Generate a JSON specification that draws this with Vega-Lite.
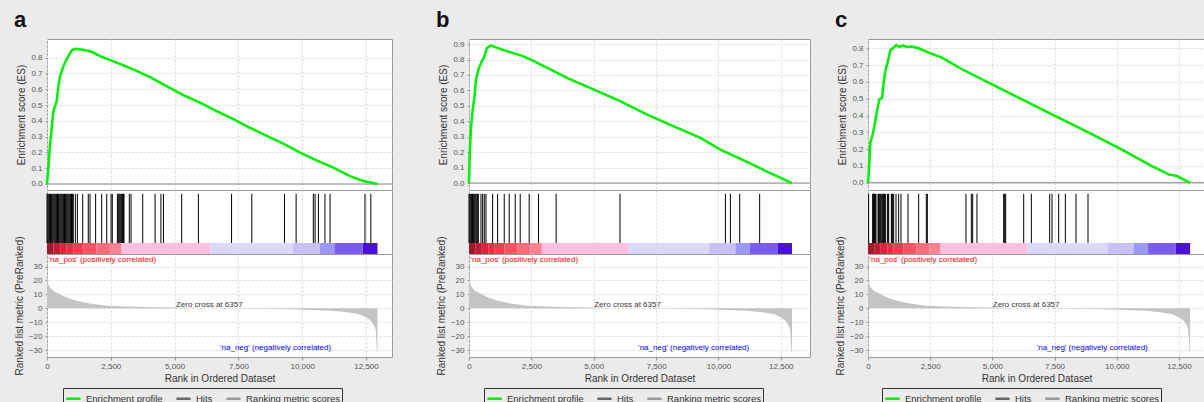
{
  "$schema": "https://vega.github.io/schema/vega-lite/v6.json",
  "background": "#ebebeb",
  "padding": {"left": 13, "top": 8, "right": 0, "bottom": 0},
  "datasets": {
    "metric": [
      {"rank": 0, "value": 24}, {"rank": 52, "value": 17.3}, {"rank": 117, "value": 14.9}, {"rank": 247, "value": 12.5},
      {"rank": 508, "value": 10.1}, {"rank": 769, "value": 7.7}, {"rank": 1160, "value": 5.4}, {"rank": 1681, "value": 3.4},
      {"rank": 2332, "value": 1.8}, {"rank": 3374, "value": 1.1}, {"rank": 4937, "value": 0.5}, {"rank": 5600, "value": 0.2},
      {"rank": 6357, "value": 0}, {"rank": 8000, "value": -0.2}, {"rank": 9173, "value": -0.6}, {"rank": 11191, "value": -1.8},
      {"rank": 11843, "value": -3}, {"rank": 12234, "value": -4.2}, {"rank": 12494, "value": -6.5}, {"rank": 12690, "value": -9},
      {"rank": 12820, "value": -12.5}, {"rank": 12885, "value": -16}, {"rank": 12924, "value": -30}, {"rank": 12950, "value": -33}
    ],
    "bar": [
      {"start": 0, "end": 247, "bin": "r1"}, {"start": 247, "end": 515, "bin": "r2"}, {"start": 515, "end": 772, "bin": "r3"},
      {"start": 772, "end": 1029, "bin": "r4"}, {"start": 1029, "end": 1420, "bin": "r5"}, {"start": 1420, "end": 1940, "bin": "r6"},
      {"start": 1940, "end": 2465, "bin": "r7"}, {"start": 2465, "end": 2919, "bin": "r8"}, {"start": 2919, "end": 6400, "bin": "pk"},
      {"start": 6400, "end": 9628, "bin": "l1"}, {"start": 9628, "end": 10677, "bin": "l2"}, {"start": 10677, "end": 11260, "bin": "b1"},
      {"start": 11260, "end": 12370, "bin": "b2"}, {"start": 12370, "end": 12950, "bin": "b3"}
    ],
    "zero": [{"es": 0}],
    "notes": [
      {"kind": "pos", "rank": 60, "value": 34.7, "text": "'na_pos' (positively correlated)"},
      {"kind": "zero", "rank": 6357, "value": 2.4, "text": "Zero cross at 6357"},
      {"kind": "neg", "rank": 6780, "value": -28.8, "text": "'na_neg' (negatively correlated)"}
    ],
    "esA": [
      {"rank": 0, "es": 0}, {"rank": 53, "es": 0.103}, {"rank": 117, "es": 0.25}, {"rank": 183, "es": 0.35}, {"rank": 248, "es": 0.46},
      {"rank": 379, "es": 0.525}, {"rank": 444, "es": 0.62}, {"rank": 509, "es": 0.68}, {"rank": 640, "es": 0.745}, {"rank": 771, "es": 0.79},
      {"rank": 966, "es": 0.846}, {"rank": 1097, "es": 0.856}, {"rank": 1424, "es": 0.85}, {"rank": 1750, "es": 0.837}, {"rank": 2077, "es": 0.81},
      {"rank": 2730, "es": 0.768}, {"rank": 3383, "es": 0.726}, {"rank": 4036, "es": 0.677}, {"rank": 4689, "es": 0.62}, {"rank": 5342, "es": 0.563},
      {"rank": 5996, "es": 0.515}, {"rank": 6648, "es": 0.462}, {"rank": 7301, "es": 0.41}, {"rank": 7955, "es": 0.356}, {"rank": 8607, "es": 0.304},
      {"rank": 9260, "es": 0.255}, {"rank": 9914, "es": 0.198}, {"rank": 10567, "es": 0.15}, {"rank": 11220, "es": 0.103}, {"rank": 11873, "es": 0.05},
      {"rank": 12395, "es": 0.019}, {"rank": 12721, "es": 0.008}, {"rank": 12950, "es": 0}
    ],
    "hitsA": [
      {"rank": 0}, {"rank": 34}, {"rank": 69}, {"rank": 103}, {"rank": 137}, {"rank": 172}, {"rank": 206}, {"rank": 240}, {"rank": 275}, {"rank": 309},
      {"rank": 343}, {"rank": 378}, {"rank": 412}, {"rank": 446}, {"rank": 481}, {"rank": 515}, {"rank": 549}, {"rank": 584}, {"rank": 618}, {"rank": 652},
      {"rank": 687}, {"rank": 721}, {"rank": 755}, {"rank": 790}, {"rank": 824}, {"rank": 858}, {"rank": 893}, {"rank": 927}, {"rank": 961}, {"rank": 996},
      {"rank": 1030}, {"rank": 1111}, {"rank": 1190}, {"rank": 1399}, {"rank": 1617}, {"rank": 1686}, {"rank": 1905}, {"rank": 2143}, {"rank": 2341},
      {"rank": 2510}, {"rank": 2559}, {"rank": 2758}, {"rank": 2792}, {"rank": 2826}, {"rank": 2860}, {"rank": 2894}, {"rank": 2928}, {"rank": 2962},
      {"rank": 2996}, {"rank": 3016}, {"rank": 3224}, {"rank": 3293}, {"rank": 3750}, {"rank": 4236}, {"rank": 4464}, {"rank": 4563}, {"rank": 5277},
      {"rank": 5932}, {"rank": 7232}, {"rank": 8025}, {"rank": 9305}, {"rank": 9761}, {"rank": 10436}, {"rank": 10505}, {"rank": 10634}, {"rank": 10892},
      {"rank": 11091}, {"rank": 12460}, {"rank": 12688}
    ],
    "esB": [
      {"rank": 0, "es": 0}, {"rank": 27, "es": 0.184}, {"rank": 80, "es": 0.356}, {"rank": 147, "es": 0.475}, {"rank": 213, "es": 0.55},
      {"rank": 280, "es": 0.67}, {"rank": 373, "es": 0.734}, {"rank": 480, "es": 0.778}, {"rank": 613, "es": 0.82}, {"rank": 720, "es": 0.875},
      {"rank": 880, "es": 0.892}, {"rank": 1080, "es": 0.879}, {"rank": 1547, "es": 0.853}, {"rank": 2080, "es": 0.827}, {"rank": 2480, "es": 0.8},
      {"rank": 3280, "es": 0.734}, {"rank": 3947, "es": 0.68}, {"rank": 5013, "es": 0.605}, {"rank": 6080, "es": 0.529}, {"rank": 7147, "es": 0.443},
      {"rank": 8213, "es": 0.367}, {"rank": 9280, "es": 0.292}, {"rank": 10080, "es": 0.216}, {"rank": 11147, "es": 0.137}, {"rank": 11947, "es": 0.074},
      {"rank": 12950, "es": 0}
    ],
    "hitsB": [
      {"rank": 0}, {"rank": 35}, {"rank": 70}, {"rank": 105}, {"rank": 140}, {"rank": 175}, {"rank": 210}, {"rank": 245}, {"rank": 280}, {"rank": 315},
      {"rank": 350}, {"rank": 373}, {"rank": 480}, {"rank": 547}, {"rank": 613}, {"rank": 680}, {"rank": 947}, {"rank": 1147}, {"rank": 1413},
      {"rank": 1613}, {"rank": 1853}, {"rank": 2053}, {"rank": 2413}, {"rank": 2787}, {"rank": 3493}, {"rank": 6053}, {"rank": 10280},
      {"rank": 10480}, {"rank": 10853}, {"rank": 11653}
    ],
    "esC": [
      {"rank": 0, "es": 0}, {"rank": 27, "es": 0.05}, {"rank": 94, "es": 0.238}, {"rank": 188, "es": 0.288}, {"rank": 268, "es": 0.347},
      {"rank": 362, "es": 0.427}, {"rank": 456, "es": 0.496}, {"rank": 563, "es": 0.506}, {"rank": 630, "es": 0.595}, {"rank": 697, "es": 0.665},
      {"rank": 804, "es": 0.724}, {"rank": 898, "es": 0.788}, {"rank": 1032, "es": 0.804}, {"rank": 1139, "es": 0.819}, {"rank": 1273, "es": 0.808},
      {"rank": 1407, "es": 0.817}, {"rank": 1568, "es": 0.808}, {"rank": 1769, "es": 0.81}, {"rank": 2037, "es": 0.8}, {"rank": 2439, "es": 0.774},
      {"rank": 2974, "es": 0.744}, {"rank": 3778, "es": 0.675}, {"rank": 4851, "es": 0.595}, {"rank": 6057, "es": 0.506}, {"rank": 7396, "es": 0.407},
      {"rank": 8737, "es": 0.308}, {"rank": 10077, "es": 0.208}, {"rank": 11416, "es": 0.099}, {"rank": 12087, "es": 0.05}, {"rank": 12421, "es": 0.04},
      {"rank": 12950, "es": 0}
    ],
    "hitsC": [
      {"rank": 27}, {"rank": 188}, {"rank": 208}, {"rank": 228}, {"rank": 248}, {"rank": 268}, {"rank": 295}, {"rank": 321}, {"rank": 402}, {"rank": 429},
      {"rank": 456}, {"rank": 496}, {"rank": 536}, {"rank": 590}, {"rank": 617}, {"rank": 643}, {"rank": 670}, {"rank": 697}, {"rank": 778}, {"rank": 805},
      {"rank": 831}, {"rank": 938}, {"rank": 965}, {"rank": 992}, {"rank": 1032}, {"rank": 1126}, {"rank": 1233}, {"rank": 1327}, {"rank": 1608},
      {"rank": 2037}, {"rank": 2345}, {"rank": 2386}, {"rank": 3939}, {"rank": 4154}, {"rank": 4208}, {"rank": 4381}, {"rank": 5454}, {"rank": 5494},
      {"rank": 5535}, {"rank": 6259}, {"rank": 6567}, {"rank": 7304}, {"rank": 7398}, {"rank": 7666}, {"rank": 7934}, {"rank": 8363}, {"rank": 8845}
    ]
  },
  "spacing": 42,
  "resolve": {"scale": {"x": "independent", "y": "independent", "color": "independent", "fill": "independent"}, "legend": {"color": "independent"}},
  "hconcat": [
    {
      "title": {"text": "a"},
      "spacing": 0,
      "bounds": "flush",
      "resolve": {"scale": {"y": "independent"}},
      "vconcat": [
        {
          "width": 345, "height": 151,
          "layer": [
            {"data": {"name": "zero"}, "mark": {"type": "rule", "color": "#888", "strokeWidth": 1},
             "encoding": {"y": {"field": "es", "type": "quantitative"}}},
            {"data": {"name": "esA"}, "mark": {"type": "line", "strokeWidth": 2.5},
             "encoding": {
               "x": {"field": "rank", "type": "quantitative", "scale": {"domain": [0, 13518], "nice": false, "zero": false},
                     "axis": {"values": [0, 2500, 5000, 7500, 10000, 12500], "labels": false, "ticks": false, "title": null, "grid": true}},
               "y": {"field": "es", "type": "quantitative", "scale": {"domain": [-0.038, 0.918], "nice": false, "zero": false},
                     "axis": {"values": [0, 0.1, 0.2, 0.3, 0.4, 0.5, 0.6, 0.7, 0.8], "format": ".1f", "title": "Enrichment score (ES)", "grid": true, "labelOverlap": false, "labelBound": false, "tickCount": 9}},
               "color": {"datum": "Enrichment profile", "type": "nominal",
                         "scale": {"domain": ["Enrichment profile", "Hits", "Ranking metric scores"], "range": ["#00ee00", "#666666", "#999999"]},
                         "legend": {"orient": "none", "legendX": 16, "legendY": 349, "direction": "horizontal", "columns": 3, "title": null}}
             }}
          ]
        },
        {
          "width": 345, "height": 64,
          "layer": [
            {"data": {"name": "bar"}, "mark": {"type": "rect"},
             "encoding": {
               "x": {"field": "start", "type": "quantitative", "scale": {"domain": [0, 13518], "nice": false, "zero": false},
                     "axis": {"values": [0, 2500, 5000, 7500, 10000, 12500], "labels": false, "ticks": false, "title": null, "grid": true}},
               "x2": {"field": "end"},
               "y": {"datum": 0, "type": "quantitative", "scale": {"domain": [0, 1], "nice": false}, "axis": null},
               "y2": {"datum": 0.172},
               "fill": {"field": "bin", "type": "nominal", "legend": null,
                        "scale": {"domain": ["r1", "r2", "r3", "r4", "r5", "r6", "r7", "r8", "pk", "l1", "l2", "b1", "b2", "b3"],
                                  "range": ["#a01a2e", "#bc1e34", "#d6263c", "#ea2c44", "#f43c50", "#f75464", "#f96c7a", "#fa8292", "#f9c0e2", "#dadaf8", "#c8c2f4", "#9a9af6", "#7a5cf0", "#4a10d6"]}}
             }},
            {"data": {"name": "hitsA"}, "mark": {"type": "rule", "color": "#000", "strokeWidth": 1},
             "encoding": {
               "x": {"field": "rank", "type": "quantitative"},
               "y": {"datum": 0.172, "type": "quantitative"},
               "y2": {"datum": 0.94}
             }}
          ]
        },
        {
          "width": 345, "height": 103,
          "layer": [
            {"data": {"name": "metric"}, "mark": {"type": "area", "color": "#c4c4c4"},
             "encoding": {
               "x": {"field": "rank", "type": "quantitative", "scale": {"domain": [0, 13518], "nice": false, "zero": false},
                     "axis": {"values": [0, 2500, 5000, 7500, 10000, 12500], "format": ",d", "title": "Rank in Ordered Dataset", "grid": true, "ticks": true, "tickSize": 3, "labelPadding": 2, "titlePadding": 3, "labelOverlap": false}},
               "y": {"field": "value", "type": "quantitative", "scale": {"domain": [-35, 39], "nice": false, "zero": false},
                     "axis": {"values": [-30, -20, -10, 0, 10, 20, 30], "title": "Ranked list metric (PreRanked)", "grid": true, "labelOverlap": false, "labelBound": false, "tickCount": 7}}
             }},
            {"data": {"name": "notes"}, "transform": [{"filter": "datum.kind === 'pos'"}],
             "mark": {"type": "text", "align": "left", "baseline": "middle", "color": "#ff0000", "fontSize": 8, "font": "Liberation Sans"},
             "encoding": {"x": {"field": "rank", "type": "quantitative"}, "y": {"field": "value", "type": "quantitative"}, "text": {"field": "text"}}},
            {"data": {"name": "notes"}, "transform": [{"filter": "datum.kind === 'zero'"}],
             "mark": {"type": "text", "align": "center", "baseline": "middle", "color": "#333333", "fontSize": 8, "font": "Liberation Sans"},
             "encoding": {"x": {"field": "rank", "type": "quantitative"}, "y": {"field": "value", "type": "quantitative"}, "text": {"field": "text"}}},
            {"data": {"name": "notes"}, "transform": [{"filter": "datum.kind === 'neg'"}],
             "mark": {"type": "text", "align": "left", "baseline": "middle", "color": "#0000ff", "fontSize": 8, "font": "Liberation Sans"},
             "encoding": {"x": {"field": "rank", "type": "quantitative"}, "y": {"field": "value", "type": "quantitative"}, "text": {"field": "text"}}}
          ]
        }
      ]
    },
    {
      "spacing": 23,
      "resolve": {"scale": {"x": "independent", "y": "independent", "color": "independent", "fill": "independent"}, "legend": {"color": "independent"}},
      "hconcat": [
        {
          "title": {"text": "b"},
          "spacing": 0,
          "bounds": "flush",
          "resolve": {"scale": {"y": "independent"}},
          "vconcat": [
            {
              "width": 341, "height": 151,
              "layer": [
                {"data": {"name": "zero"}, "mark": {"type": "rule", "color": "#888", "strokeWidth": 1},
                 "encoding": {"y": {"field": "es", "type": "quantitative"}}},
                {"data": {"name": "esB"}, "mark": {"type": "line", "strokeWidth": 2.5},
                 "encoding": {
                   "x": {"field": "rank", "type": "quantitative", "scale": {"domain": [0, 13671], "nice": false, "zero": false},
                         "axis": {"values": [0, 2500, 5000, 7500, 10000, 12500], "labels": false, "ticks": false, "title": null, "grid": true}},
                   "y": {"field": "es", "type": "quantitative", "scale": {"domain": [-0.045, 0.933], "nice": false, "zero": false},
                         "axis": {"values": [0, 0.1, 0.2, 0.3, 0.4, 0.5, 0.6, 0.7, 0.8, 0.9], "format": ".1f", "title": "Enrichment score (ES)", "grid": true, "labelOverlap": false, "labelBound": false, "tickCount": 10}},
                   "color": {"datum": "Enrichment profile", "type": "nominal",
                             "scale": {"domain": ["Enrichment profile", "Hits", "Ranking metric scores"], "range": ["#00ee00", "#666666", "#999999"]},
                             "legend": {"orient": "none", "legendX": 15, "legendY": 349, "direction": "horizontal", "columns": 3, "title": null}}
                 }}
              ]
            },
            {
              "width": 341, "height": 64,
              "layer": [
                {"data": {"name": "bar"}, "mark": {"type": "rect"},
                 "encoding": {
                   "x": {"field": "start", "type": "quantitative", "scale": {"domain": [0, 13671], "nice": false, "zero": false},
                         "axis": {"values": [0, 2500, 5000, 7500, 10000, 12500], "labels": false, "ticks": false, "title": null, "grid": true}},
                   "x2": {"field": "end"},
                   "y": {"datum": 0, "type": "quantitative", "scale": {"domain": [0, 1], "nice": false}, "axis": null},
                   "y2": {"datum": 0.172},
                   "fill": {"field": "bin", "type": "nominal", "legend": null,
                            "scale": {"domain": ["r1", "r2", "r3", "r4", "r5", "r6", "r7", "r8", "pk", "l1", "l2", "b1", "b2", "b3"],
                                      "range": ["#a01a2e", "#bc1e34", "#d6263c", "#ea2c44", "#f43c50", "#f75464", "#f96c7a", "#fa8292", "#f9c0e2", "#dadaf8", "#c8c2f4", "#9a9af6", "#7a5cf0", "#4a10d6"]}}
                 }},
                {"data": {"name": "hitsB"}, "mark": {"type": "rule", "color": "#000", "strokeWidth": 1},
                 "encoding": {
                   "x": {"field": "rank", "type": "quantitative"},
                   "y": {"datum": 0.172, "type": "quantitative"},
                   "y2": {"datum": 0.94}
                 }}
              ]
            },
            {
              "width": 341, "height": 103,
              "layer": [
                {"data": {"name": "metric"}, "mark": {"type": "area", "color": "#c4c4c4"},
                 "encoding": {
                   "x": {"field": "rank", "type": "quantitative", "scale": {"domain": [0, 13671], "nice": false, "zero": false},
                         "axis": {"values": [0, 2500, 5000, 7500, 10000, 12500], "format": ",d", "title": "Rank in Ordered Dataset", "grid": true, "ticks": true, "tickSize": 3, "labelPadding": 2, "titlePadding": 3, "labelOverlap": false}},
                   "y": {"field": "value", "type": "quantitative", "scale": {"domain": [-35, 39], "nice": false, "zero": false},
                         "axis": {"values": [-30, -20, -10, 0, 10, 20, 30], "title": "Ranked list metric (PreRanked)", "grid": true, "labelOverlap": false, "labelBound": false, "tickCount": 7}}
                 }},
                {"data": {"name": "notes"}, "transform": [{"filter": "datum.kind === 'pos'"}],
                 "mark": {"type": "text", "align": "left", "baseline": "middle", "color": "#ff0000", "fontSize": 8, "font": "Liberation Sans"},
                 "encoding": {"x": {"field": "rank", "type": "quantitative"}, "y": {"field": "value", "type": "quantitative"}, "text": {"field": "text"}}},
                {"data": {"name": "notes"}, "transform": [{"filter": "datum.kind === 'zero'"}],
                 "mark": {"type": "text", "align": "center", "baseline": "middle", "color": "#333333", "fontSize": 8, "font": "Liberation Sans"},
                 "encoding": {"x": {"field": "rank", "type": "quantitative"}, "y": {"field": "value", "type": "quantitative"}, "text": {"field": "text"}}},
                {"data": {"name": "notes"}, "transform": [{"filter": "datum.kind === 'neg'"}],
                 "mark": {"type": "text", "align": "left", "baseline": "middle", "color": "#0000ff", "fontSize": 8, "font": "Liberation Sans"},
                 "encoding": {"x": {"field": "rank", "type": "quantitative"}, "y": {"field": "value", "type": "quantitative"}, "text": {"field": "text"}}}
              ]
            }
          ]
        },
        {
          "title": {"text": "c"},
          "spacing": 0,
          "bounds": "flush",
          "resolve": {"scale": {"y": "independent"}},
          "vconcat": [
            {
              "width": 337, "height": 151,
              "layer": [
                {"data": {"name": "zero"}, "mark": {"type": "rule", "color": "#888", "strokeWidth": 1},
                 "encoding": {"y": {"field": "es", "type": "quantitative"}}},
                {"data": {"name": "esC"}, "mark": {"type": "line", "strokeWidth": 2.5},
                 "encoding": {
                   "x": {"field": "rank", "type": "quantitative", "scale": {"domain": [0, 13548], "nice": false, "zero": false},
                         "axis": {"values": [0, 2500, 5000, 7500, 10000, 12500], "labels": false, "ticks": false, "title": null, "grid": true}},
                   "y": {"field": "es", "type": "quantitative", "scale": {"domain": [-0.043, 0.855], "nice": false, "zero": false},
                         "axis": {"values": [0, 0.1, 0.2, 0.3, 0.4, 0.5, 0.6, 0.7, 0.8], "format": ".1f", "title": "Enrichment score (ES)", "grid": true, "labelOverlap": false, "labelBound": false, "tickCount": 9}},
                   "color": {"datum": "Enrichment profile", "type": "nominal",
                             "scale": {"domain": ["Enrichment profile", "Hits", "Ranking metric scores"], "range": ["#00ee00", "#666666", "#999999"]},
                             "legend": {"orient": "none", "legendX": 14, "legendY": 349, "direction": "horizontal", "columns": 3, "title": null}}
                 }}
              ]
            },
            {
              "width": 337, "height": 64,
              "layer": [
                {"data": {"name": "bar"}, "mark": {"type": "rect"},
                 "encoding": {
                   "x": {"field": "start", "type": "quantitative", "scale": {"domain": [0, 13548], "nice": false, "zero": false},
                         "axis": {"values": [0, 2500, 5000, 7500, 10000, 12500], "labels": false, "ticks": false, "title": null, "grid": true}},
                   "x2": {"field": "end"},
                   "y": {"datum": 0, "type": "quantitative", "scale": {"domain": [0, 1], "nice": false}, "axis": null},
                   "y2": {"datum": 0.172},
                   "fill": {"field": "bin", "type": "nominal", "legend": null,
                            "scale": {"domain": ["r1", "r2", "r3", "r4", "r5", "r6", "r7", "r8", "pk", "l1", "l2", "b1", "b2", "b3"],
                                      "range": ["#a01a2e", "#bc1e34", "#d6263c", "#ea2c44", "#f43c50", "#f75464", "#f96c7a", "#fa8292", "#f9c0e2", "#dadaf8", "#c8c2f4", "#9a9af6", "#7a5cf0", "#4a10d6"]}}
                 }},
                {"data": {"name": "hitsC"}, "mark": {"type": "rule", "color": "#000", "strokeWidth": 1},
                 "encoding": {
                   "x": {"field": "rank", "type": "quantitative"},
                   "y": {"datum": 0.172, "type": "quantitative"},
                   "y2": {"datum": 0.94}
                 }}
              ]
            },
            {
              "width": 337, "height": 103,
              "layer": [
                {"data": {"name": "metric"}, "mark": {"type": "area", "color": "#c4c4c4"},
                 "encoding": {
                   "x": {"field": "rank", "type": "quantitative", "scale": {"domain": [0, 13548], "nice": false, "zero": false},
                         "axis": {"values": [0, 2500, 5000, 7500, 10000, 12500], "format": ",d", "title": "Rank in Ordered Dataset", "grid": true, "ticks": true, "tickSize": 3, "labelPadding": 2, "titlePadding": 3, "labelOverlap": false}},
                   "y": {"field": "value", "type": "quantitative", "scale": {"domain": [-35, 39], "nice": false, "zero": false},
                         "axis": {"values": [-30, -20, -10, 0, 10, 20, 30], "title": "Ranked list metric (PreRanked)", "grid": true, "labelOverlap": false, "labelBound": false, "tickCount": 7}}
                 }},
                {"data": {"name": "notes"}, "transform": [{"filter": "datum.kind === 'pos'"}],
                 "mark": {"type": "text", "align": "left", "baseline": "middle", "color": "#ff0000", "fontSize": 8, "font": "Liberation Sans"},
                 "encoding": {"x": {"field": "rank", "type": "quantitative"}, "y": {"field": "value", "type": "quantitative"}, "text": {"field": "text"}}},
                {"data": {"name": "notes"}, "transform": [{"filter": "datum.kind === 'zero'"}],
                 "mark": {"type": "text", "align": "center", "baseline": "middle", "color": "#333333", "fontSize": 8, "font": "Liberation Sans"},
                 "encoding": {"x": {"field": "rank", "type": "quantitative"}, "y": {"field": "value", "type": "quantitative"}, "text": {"field": "text"}}},
                {"data": {"name": "notes"}, "transform": [{"filter": "datum.kind === 'neg'"}],
                 "mark": {"type": "text", "align": "left", "baseline": "middle", "color": "#0000ff", "fontSize": 8, "font": "Liberation Sans"},
                 "encoding": {"x": {"field": "rank", "type": "quantitative"}, "y": {"field": "value", "type": "quantitative"}, "text": {"field": "text"}}}
              ]
            }
          ]
        }
      ]
    }
  ],
  "config": {
    "view": {"fill": "#ffffff", "stroke": "#9a9a9a", "strokeWidth": 1},
    "axis": {"labelFont": "Liberation Sans", "titleFont": "Liberation Sans", "labelFontSize": 8, "titleFontSize": 10,
             "titleFontWeight": "normal", "labelColor": "#555555", "titleColor": "#333333", "gridColor": "#d6d6d6", "gridDash": [2, 2],
             "tickColor": "#999999", "tickSize": 2, "domain": false, "labelPadding": 3, "titlePadding": 4,
             "labelOverlap": false, "labelFlush": false},
    "title": {"font": "Liberation Sans", "fontSize": 22, "fontWeight": "bold", "anchor": "start", "frame": "bounds", "color": "#111111", "offset": 7},
    "legend": {"symbolType": "stroke", "symbolStrokeWidth": 2.5, "symbolSize": 200, "labelFont": "Liberation Sans", "labelFontSize": 9.5,
               "labelColor": "#333333", "strokeColor": "#333333", "padding": 2, "columnPadding": 8, "labelLimit": 200, "cornerRadius": 0}
  }
}
